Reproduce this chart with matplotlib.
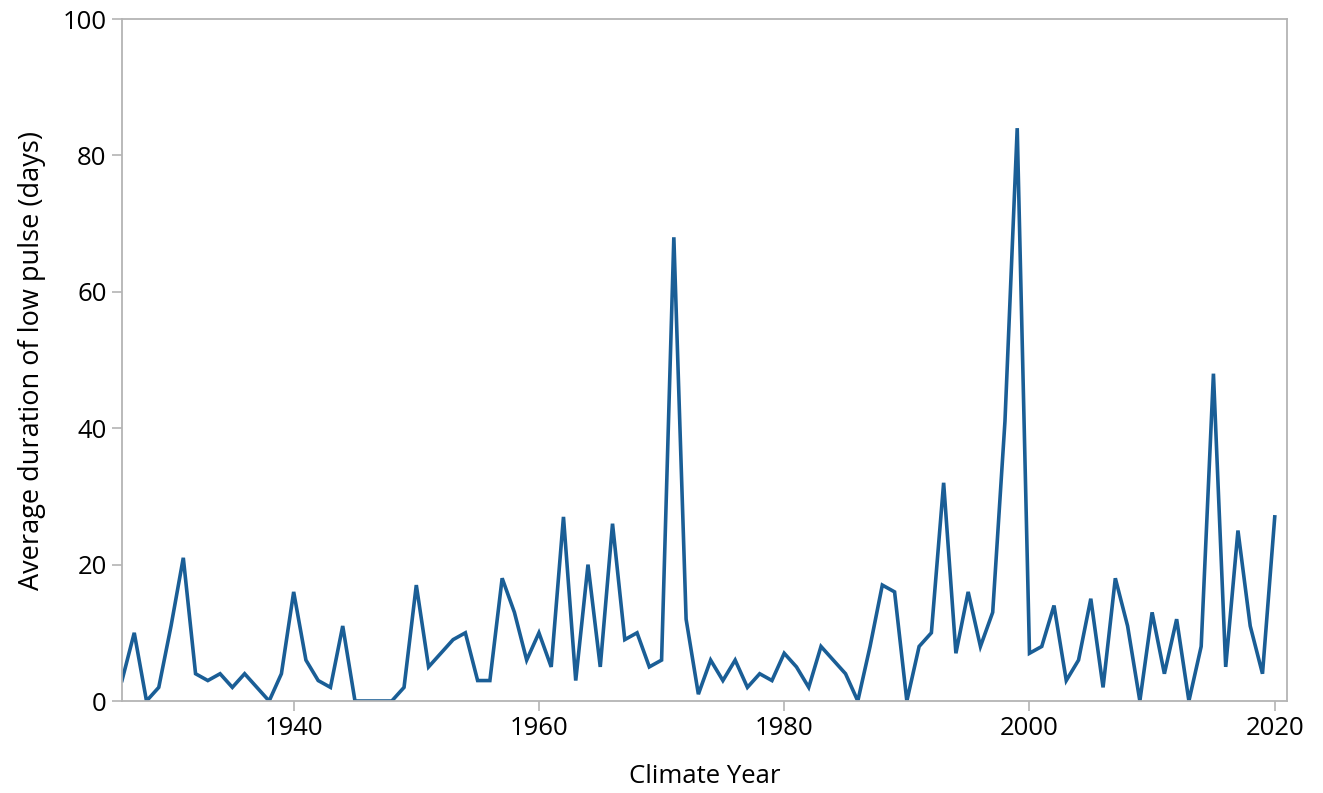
import matplotlib
matplotlib.use("Agg")
import matplotlib.pyplot as plt

years = list(range(1926, 2021))
duration = [
    3, 10, 0, 2, 11, 21, 4, 3, 4, 2,          # 1926-1935
    4, 2, 0, 4, 16, 6, 3, 2, 11, 0,           # 1936-1945
    0, 0, 0, 2, 17, 5, 7, 9, 10, 3,           # 1946-1955
    3, 18, 13, 6, 10, 5, 27, 3, 20, 5,        # 1956-1965
    26, 9, 10, 5, 6, 68, 12, 1, 6, 3,         # 1966-1975
    6, 2, 4, 3, 7, 5, 2, 8, 6, 4,             # 1976-1985
    0, 8, 17, 16, 0, 8, 10, 32, 7, 16,        # 1986-1995
    8, 13, 41, 84, 7, 8, 14, 3, 6, 15,        # 1996-2005
    2, 18, 11, 0, 13, 4, 12, 0, 8, 48,        # 2006-2015
    5, 25, 11, 4, 27,                         # 2016-2020
]
x_ticks = [1940, 1960, 1980, 2000, 2020]
y_ticks = [0, 20, 40, 60, 80, 100]

plt.rcParams['font.family'] = ['Open Sans', 'DejaVu Sans']

fig = plt.figure(figsize=(13.23, 7.93), dpi=100)
ax = fig.add_axes([0.0922, 0.1160, 0.8806, 0.8600])
ax.plot(years, duration, color='#1a5e96', lw=2.6, solid_joinstyle='miter')
ax.set_xlim(1926, 2021)
ax.set_ylim(0, 100)
ax.set_xticks(x_ticks)
ax.set_yticks(y_ticks)
for s in ax.spines.values():
    s.set_color('#b4b4b4')
    s.set_linewidth(1.3)
ax.tick_params(axis='both', direction='out', length=7, width=1.2, color='#b4b4b4',
               labelsize=18.5, labelcolor='black', pad=4)
ax.set_xlabel('Climate Year', fontsize=18.5, labelpad=16)
ax.set_ylabel('Average duration of low pulse (days)', fontsize=19.5, labelpad=12)
fig.savefig('out.png', dpi=100)
